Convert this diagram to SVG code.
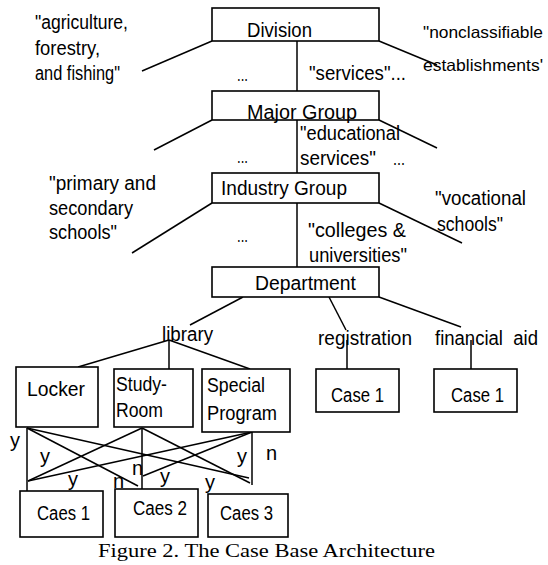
<svg xmlns="http://www.w3.org/2000/svg" width="548" height="565" viewBox="0 0 548 565">
<style>
.b{fill:#fff;stroke:#000;stroke-width:1.6}
.c line{stroke:#000;stroke-width:1.5}
text{font-family:"Liberation Sans",Arial,sans-serif;font-size:20px;fill:#000}
.s{font-size:18px}
.e{font-size:16.5px}
.cap{font-family:"Liberation Serif","Times New Roman",serif;font-size:19px}
</style>
<rect width="548" height="565" fill="#fff"/>
<g id="connectors" class="c">
<line x1="297" y1="41" x2="297" y2="91"/>
<line x1="212" y1="41" x2="142" y2="71"/>
<line x1="379" y1="41" x2="437" y2="65"/>
<line x1="297" y1="120" x2="297" y2="173"/>
<line x1="212" y1="120" x2="154" y2="150"/>
<line x1="379" y1="120" x2="437" y2="148"/>
<line x1="297" y1="203" x2="297" y2="267"/>
<line x1="212" y1="203" x2="132" y2="253"/>
<line x1="379" y1="203" x2="462" y2="243"/>
<line x1="243" y1="297" x2="190" y2="325"/>
<line x1="329" y1="297" x2="346" y2="330"/>
<line x1="379" y1="297" x2="461" y2="327"/>
<line x1="169" y1="340" x2="78" y2="367"/>
<line x1="169" y1="340" x2="169" y2="369"/>
<line x1="169" y1="340" x2="250" y2="369"/>
<line x1="347" y1="340" x2="347" y2="369"/>
<line x1="471" y1="340" x2="471" y2="369"/>
<line x1="27" y1="428" x2="27" y2="491"/>
<line x1="27" y1="428" x2="138" y2="486"/>
<line x1="27" y1="428" x2="249" y2="478"/>
<line x1="142" y1="428" x2="28" y2="481"/>
<line x1="142" y1="428" x2="142" y2="489"/>
<line x1="142" y1="428" x2="250" y2="483"/>
<line x1="252" y1="432" x2="28" y2="481"/>
<line x1="252" y1="432" x2="143" y2="476"/>
<line x1="252" y1="432" x2="252" y2="485"/>
</g>
<g id="division"><rect class="b" x="212" y="8" width="167" height="33"/><text x="247" y="37" textLength="65" lengthAdjust="spacingAndGlyphs">Division</text></g>
<g id="major-group"><rect class="b" x="212" y="91" width="167" height="29"/><text x="247" y="119" textLength="110" lengthAdjust="spacingAndGlyphs">Major Group</text></g>
<g id="industry-group"><rect class="b" x="212" y="173" width="167" height="30"/><text x="221" y="195" textLength="126" lengthAdjust="spacingAndGlyphs">Industry Group</text></g>
<g id="department"><rect class="b" x="212" y="267" width="167" height="30"/><text x="255" y="290" textLength="101" lengthAdjust="spacingAndGlyphs">Department</text></g>
<g id="agriculture"><text x="35" y="29" textLength="93" lengthAdjust="spacingAndGlyphs">"agriculture,</text><text x="35" y="55" textLength="65" lengthAdjust="spacingAndGlyphs">forestry,</text><text x="35" y="80" textLength="85" lengthAdjust="spacingAndGlyphs">and fishing"</text></g>
<g id="nonclassifiable"><text class="e" x="423" y="38" textLength="120" lengthAdjust="spacingAndGlyphs">"nonclassifiable</text><text class="e" x="423" y="71" textLength="120" lengthAdjust="spacingAndGlyphs">establishments'</text></g>
<g id="services"><text x="309" y="80" textLength="97" lengthAdjust="spacingAndGlyphs">"services"...</text><text x="237" y="81" class="s" textLength="11" lengthAdjust="spacingAndGlyphs">...</text></g>
<g id="educational"><text x="300" y="140" textLength="100" lengthAdjust="spacingAndGlyphs">"educational</text><text x="300" y="165" textLength="76" lengthAdjust="spacingAndGlyphs">services"</text><text x="393" y="165" class="s" textLength="12" lengthAdjust="spacingAndGlyphs">...</text><text x="237" y="163" class="s" textLength="11" lengthAdjust="spacingAndGlyphs">...</text></g>
<g id="primary"><text x="49" y="190" textLength="107" lengthAdjust="spacingAndGlyphs">"primary and</text><text x="49" y="215" textLength="84" lengthAdjust="spacingAndGlyphs">secondary</text><text x="49" y="239" textLength="68" lengthAdjust="spacingAndGlyphs">schools"</text></g>
<g id="vocational"><text x="435" y="205" textLength="91" lengthAdjust="spacingAndGlyphs">"vocational</text><text x="437" y="231" textLength="66" lengthAdjust="spacingAndGlyphs">schools"</text></g>
<g id="colleges"><text x="308" y="237" textLength="98" lengthAdjust="spacingAndGlyphs">"colleges &amp;</text><text x="309" y="262" textLength="98" lengthAdjust="spacingAndGlyphs">universities"</text><text x="237" y="242" class="s" textLength="11" lengthAdjust="spacingAndGlyphs">...</text></g>
<g id="library"><text x="162" y="341" textLength="51" lengthAdjust="spacingAndGlyphs">library</text></g>
<g id="registration"><text x="318" y="345" textLength="94" lengthAdjust="spacingAndGlyphs">registration</text></g>
<g id="financial-aid"><text x="435" y="345" textLength="103" lengthAdjust="spacingAndGlyphs" xml:space="preserve">financial  aid</text></g>
<g id="locker"><rect class="b" x="16" y="367" width="82" height="60"/><text x="27" y="396" textLength="58" lengthAdjust="spacingAndGlyphs">Locker</text></g>
<g id="study-room"><rect class="b" x="114" y="369" width="79" height="58"/><text x="116" y="391" textLength="51" lengthAdjust="spacingAndGlyphs">Study-</text><text x="116" y="417" textLength="47" lengthAdjust="spacingAndGlyphs">Room</text></g>
<g id="special-program"><rect class="b" x="202" y="369" width="88" height="63"/><text x="207" y="392" textLength="58" lengthAdjust="spacingAndGlyphs">Special</text><text x="207" y="420" textLength="70" lengthAdjust="spacingAndGlyphs">Program</text></g>
<g id="case1-registration"><rect class="b" x="316" y="369" width="83" height="43"/><text x="331" y="402" textLength="53" lengthAdjust="spacingAndGlyphs">Case 1</text></g>
<g id="case1-financial"><rect class="b" x="434" y="369" width="83" height="43"/><text x="451" y="402" textLength="53" lengthAdjust="spacingAndGlyphs">Case 1</text></g>
<g id="caes1"><rect class="b" x="20" y="491" width="83" height="46"/><text x="37" y="520" textLength="53" lengthAdjust="spacingAndGlyphs">Caes 1</text></g>
<g id="caes2"><rect class="b" x="115" y="489" width="83" height="48"/><text x="133" y="515" textLength="54" lengthAdjust="spacingAndGlyphs">Caes 2</text></g>
<g id="caes3"><rect class="b" x="208" y="494" width="80" height="43"/><text x="220" y="520" textLength="53" lengthAdjust="spacingAndGlyphs">Caes 3</text></g>
<g id="edge-labels" class="s">
<text x="10" y="447">y</text>
<text x="40" y="463">y</text>
<text x="68" y="486">y</text>
<text x="113" y="488">n</text>
<text x="132" y="475">n</text>
<text x="160" y="483">y</text>
<text x="205" y="489">y</text>
<text x="237" y="463">y</text>
<text x="266" y="460">n</text>
</g>
<text class="cap" x="98" y="557" textLength="337" lengthAdjust="spacingAndGlyphs">Figure 2. The Case Base Architecture</text>
</svg>
